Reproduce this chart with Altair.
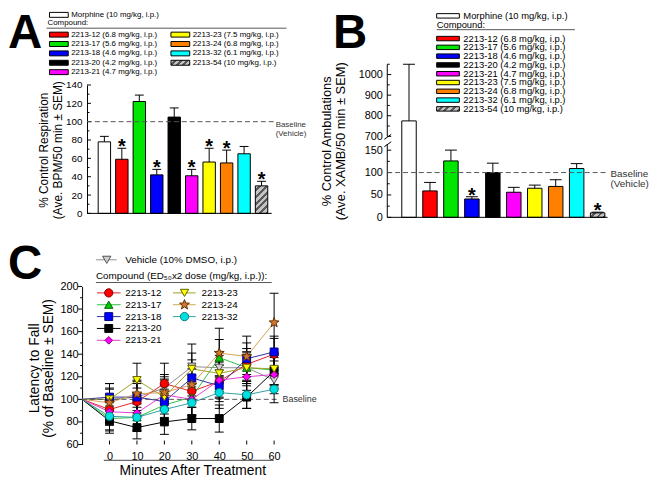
import math
import altair as alt
import pandas as pd

FONT = "Liberation Sans"

# ------------------------------------------------------------------ data (panels A & B)
groups = ["Morphine", "2213-12", "2213-17", "2213-18", "2213-20",
          "2213-21", "2213-23", "2213-24", "2213-32", "2213-54"]
doses = ["10", "6.8", "5.6", "4.6", "4.2", "4.7", "7.5", "6.8", "6.1", "10"]
bar_colors = ["#ffffff", "#ff0000", "#00e600", "#0000ff", "#000000",
              "#ff00ff", "#ffff00", "#ff8000", "#00ffff", "#b4b4b4"]
HATCH = "2213-54"

resp_mean = [78, 59, 122, 42, 105, 41, 56, 55, 65, 30]
resp_sem = [6, 12, 7, 6, 10, 7, 15, 14, 8, 5]
resp_sig = [False, True, False, True, False, True, True, True, False, True]

amb_mean = [775, 59, 126, 41, 100, 56, 65, 69, 109, 10]
amb_sem = [275, 19, 27, 5, 21, 11, 7, 15, 11, 1.5]
amb_sig = [False, False, False, True, False, False, False, False, False, True]

# ------------------------------------------------------------------ data (panel C)
minutes = [-10, 0, 10, 20, 30, 40, 50, 60]
c_names = ["Vehicle", "2213-12", "2213-17", "2213-18", "2213-20",
           "2213-21", "2213-23", "2213-24", "2213-32"]
veh_mean = [100, 100, 102, 110, 129, 128, 128, 117]
veh_sem = [0, 10, 12, 12, 20, 14, 12, 12]
c12_mean = [100, 91, 98, 114, 107, 116, 131, 140]
c12_sem = [0, 12, 12, 18, 14, 14, 14, 14]
c17_mean = [100, 83, 84, 95, 102, 137, 128, 126]
c17_sem = [0, 11, 12, 14, 16, 16, 14, 14]
c18_mean = [100, 102, 102, 98, 119, 112, 136, 142]
c18_sem = [0, 12, 14, 14, 16, 14, 14, 14]
c20_mean = [100, 81, 75, 80, 83, 83, 102, 125]
c20_sem = [0, 11, 10, 11, 10, 12, 10, 12]
c21_mean = [100, 89, 88, 104, 100, 117, 120, 122]
c21_sem = [0, 12, 12, 14, 14, 16, 12, 12]
c23_mean = [100, 100, 117, 102, 127, 123, 128, 127]
c23_sem = [0, 14, 15, 15, 14, 16, 14, 14]
c24_mean = [100, 97, 105, 106, 113, 141, 138, 168]
c24_sem = [0, 12, 12, 14, 14, 22, 18, 26]
c32_mean = [100, 85, 84, 91, 97, 106, 104, 109]
c32_sem = [0, 12, 12, 12, 14, 14, 12, 12]
c_means = [veh_mean, c12_mean, c17_mean, c18_mean, c20_mean, c21_mean, c23_mean, c24_mean, c32_mean]
c_sems = [veh_sem, c12_sem, c17_sem, c18_sem, c20_sem, c21_sem, c23_sem, c24_sem, c32_sem]

# 5-point star as a custom symbol path (Vega has no built-in star)
_pts = []
for k in range(10):
    r = 1.0 if k % 2 == 0 else 0.42
    a = math.radians(-90 + 36 * k)
    _pts.append(f"{r * math.cos(a):.3f},{r * math.sin(a):.3f}")
STAR = "M" + " L".join(_pts) + " Z"

c_line_colors = ["#8c8c8c", "#e8202a", "#30c040", "#3030a0", "#000000",
                 "#e040d0", "#a0a020", "#d8a050", "#30a0a0"]
c_fill = ["#d0d0d0", "#ff0000", "#00cc00", "#0000ff", "#000000",
          "#ff00ff", "#ffff00", "#d07830", "#00e0e0"]
c_stroke = ["#505050", "#800000", "#006000", "#000080", "#000000",
            "#800080", "#606000", "#603000", "#008080"]
c_shapes = ["triangle-down", "circle", "triangle-up", "square", "square",
            "diamond", "triangle-down", STAR, "circle"]
c_sizes = [70, 70, 70, 64, 64, 60, 70, 110, 70]

labels = [f"{g} ({d} mg/kg, i.p.)" for g, d in zip(groups, doses)]


# ------------------------------------------------------------------ helpers
def hatch(w, h, n, light="#c4c4c4", dark="#5a5a5a"):
    m = max(w, h)
    a, b = w / m, h / m
    c = (a + b) / (a * a + b * b)
    stops = []
    for k in range(n):
        s0, s1, s2 = k / n, (k + 0.55) / n, (k + 1) / n
        stops += [alt.GradientStop(color=light, offset=s0),
                  alt.GradientStop(color=light, offset=s1),
                  alt.GradientStop(color=dark, offset=s1),
                  alt.GradientStop(color=dark, offset=s2)]
    return alt.LinearGradient(gradient="linear", stops=stops, x1=0, y1=0, x2=c * a, y2=c * b)


def bar_layers(mean, sem, sig, x_range, pad_inner, y_scale, axis, cap, star_dy, hatch_fill):
    df = pd.DataFrame({"grp": groups, "m": mean, "s": sem, "sig": sig, "col": bar_colors})
    df["top"] = df["m"] + df["s"]
    xs = alt.Scale(domain=groups, range=x_range, paddingInner=pad_inner, paddingOuter=0)
    X = alt.X("grp:N", scale=xs, axis=None)
    base = alt.Chart(df)
    solid = base.transform_filter(f"datum.grp != '{HATCH}'").mark_bar(
        stroke="black", strokeWidth=1).encode(
        x=X, y=alt.Y("m:Q", scale=y_scale, axis=axis), fill=alt.Fill("col:N", scale=None))
    hat = base.transform_filter(f"datum.grp == '{HATCH}'").mark_bar(
        fill=hatch_fill, stroke="black", strokeWidth=1).encode(
        x=X, y=alt.Y("m:Q", scale=y_scale, axis=axis))
    err = base.mark_rule(color="black", strokeWidth=1).encode(
        x=X, y=alt.Y("m:Q", scale=y_scale, axis=axis), y2="top:Q")
    caps = base.mark_tick(color="black", thickness=1, size=cap, opacity=1).encode(
        x=X, y=alt.Y("top:Q", scale=y_scale, axis=axis))
    stars = base.transform_filter("datum.sig").mark_text(
        text="*", fontSize=20, fontWeight="bold", baseline="alphabetic", dy=star_dy,
        color="black").encode(x=X, y=alt.Y("top:Q", scale=y_scale, axis=axis))
    return [solid, hat, err, caps, stars]


def tick_layer(values, y_scale, x0, x1, axis):
    return alt.Chart(pd.DataFrame({"v": values})).mark_rule(color="black", strokeWidth=1).encode(
        y=alt.Y("v:Q", scale=y_scale, axis=axis), x=alt.value(x0), x2=alt.value(x1))


def hline(value, y_scale, x0, x1, axis, dash=None, color="black"):
    kw = {"color": color, "strokeWidth": 1}
    if dash:
        kw["strokeDash"] = dash
    return alt.Chart(pd.DataFrame({"v": [value]})).mark_rule(**kw).encode(
        y=alt.Y("v:Q", scale=y_scale, axis=axis), x=alt.value(x0), x2=alt.value(x1))


def pix_rule(x0, x1, y0, y1, color="black"):
    return alt.Chart(pd.DataFrame({"k": [0]})).mark_rule(color=color, strokeWidth=1).encode(
        x=alt.value(x0), x2=alt.value(x1), y=alt.value(y0), y2=alt.value(y1))


def pix_text(txt, x, y, size, weight="normal", baseline="middle", align="left", angle=0):
    return alt.Chart(pd.DataFrame({"k": [0]})).mark_text(
        text=txt, fontSize=size, fontWeight=weight, align=align, baseline=baseline,
        angle=angle, color="black").encode(x=alt.value(x), y=alt.value(y))


def bar_legend(positions, sw_w, sw_h, gap, fsize, hatch_fill):
    df = pd.DataFrame({"label": labels, "col": bar_colors, "grp": groups,
                       "sx": [p[0] for p in positions], "ly": [p[1] for p in positions]})
    df["sx2"] = df["sx"] + sw_w
    df["ya"] = df["ly"] - sw_h / 2
    df["yb"] = df["ly"] + sw_h / 2
    df["tx"] = df["sx"] + sw_w + gap
    base = alt.Chart(df)
    enc = dict(x=alt.X("sx:Q", scale=None), x2="sx2:Q",
               y=alt.Y("ya:Q", scale=None), y2="yb:Q")
    sw = base.transform_filter(f"datum.grp != '{HATCH}'").mark_rect(
        stroke="black", strokeWidth=1).encode(fill=alt.Fill("col:N", scale=None), **enc)
    sh = base.transform_filter(f"datum.grp == '{HATCH}'").mark_rect(
        fill=hatch_fill, stroke="black", strokeWidth=1).encode(**enc)
    tx = base.mark_text(align="left", baseline="middle", fontSize=fsize, color="black").encode(
        x=alt.X("tx:Q", scale=None), y=alt.Y("ly:Q", scale=None), text="label:N")
    return [sw, sh, tx]


# ------------------------------------------------------------------ panel A
A_W, A_H = 189, 151
yA = alt.Scale(domain=[0, 140], range=[151, 21], nice=False, zero=False)
axisA = alt.Axis(values=list(range(0, 141, 20)), ticks=False, tickSize=0, domain=True,
                 domainColor="black", grid=False, labelFontSize=10, labelPadding=5,
                 labelFlush=False, labelColor="black", format="d", title="")
posA = [(-38, -50)] + [(-38, -30 + 9.5 * i) for i in range(5)] + [(85, -30 + 9.5 * i) for i in range(4)]
layersA = bar_layers(resp_mean, resp_sem, resp_sig, [11.3, 183.0], 0.29, yA, axisA, 9, 5,
                     hatch(12.5, 28, 6))
layersA += [
    tick_layer(list(range(0, 141, 20)), yA, 0, 4, axisA),
    tick_layer(list(range(10, 131, 20)), yA, 0, 2.5, axisA),
    hline(0, yA, 0, 187, axisA),
    hline(100, yA, 0, 189, axisA, dash=[5, 3], color="#555555"),
    alt.Chart(pd.DataFrame({"v": [100]})).mark_text(
        text=["Baseline", "(Vehicle)"], align="left", baseline="middle", fontSize=8,
        lineHeight=10, dy=3, color="#333333").encode(
        y=alt.Y("v:Q", scale=yA, axis=axisA), x=alt.value(191)),
    pix_text("% Control Respiration", -43, 87, 12, align="center", angle=270),
    pix_text("(Ave. BPM/50 min ± SEM)", -29, 87, 12, align="center", angle=270),
    pix_text("A", -80, -54, 48, "bold", "top"),
    pix_text("Compound:", -40, -42, 8),
    pix_rule(-41, 202, -36.5, -36.5, "#555555"),
]
layersA += bar_legend(posA, 19, 5, 3, 8, hatch(19, 5, 4))
chartA = alt.layer(*layersA).properties(width=A_W, height=A_H)

# ------------------------------------------------------------------ panel B
B_W, B_H = 223, 155
yB = alt.Scale(domain=[0, 150, 700, 1050], range=[155, 87, 73, 0], nice=False, zero=False)
axisB = alt.Axis(values=[0, 50, 100, 150, 700, 800, 900, 1000], ticks=False, tickSize=0,
                 domain=False, grid=False, labelFontSize=11, labelPadding=5, labelFlush=False,
                 labelColor="black", format="d", title="")
posB = [(50, -49)] + [(50, -26 + 8.9 * i) for i in range(9)]
layersB = bar_layers(amb_mean, amb_sem, amb_sig, [14.7, 220.3], 0.31, yB, axisB, 12, 5,
                     hatch(14.7, 4.5, 3))
layersB += [
    tick_layer([0, 50, 100, 150, 700, 800, 900, 1000], yB, 0, 4, axisB),
    tick_layer([25, 75, 125, 750, 850, 950, 1050], yB, 0, 2.5, axisB),
    pix_rule(0, 0, 155, 81),
    pix_rule(0, 0, 73, 0),
    pix_rule(-3, 4, 76, 71),
    pix_rule(-3, 4, 83.5, 78.5),
    hline(0, yB, 0, 223, axisB),
    hline(100, yB, 0, 223, axisB, dash=[5, 3], color="#555555"),
    alt.Chart(pd.DataFrame({"v": [100]})).mark_text(
        text=["Baseline", "(Vehicle)"], align="left", baseline="middle", fontSize=10,
        lineHeight=11, dy=1, color="#333333").encode(
        y=alt.Y("v:Q", scale=yB, axis=axisB), x=alt.value(226)),
    pix_text("% Control Ambulations", -61, 78, 13, align="center", angle=270),
    pix_text("(Ave. XAMB/50 min ± SEM)", -47, 78, 13, align="center", angle=270),
    pix_text("B", -55, -54, 48, "bold", "top"),
    pix_text("Compound:", 50, -40, 9.5),
    pix_rule(50, 190, -35, -35, "#555555"),
]
layersB += bar_legend(posB, 23, 4.5, 4, 9.5, hatch(23, 4.5, 4))
chartB = alt.layer(*layersB).properties(width=B_W, height=B_H)

# ------------------------------------------------------------------ panel C
C_W, C_H = 195, 160
xC = alt.Scale(domain=[-10, 62], range=[-5, 195], nice=False, zero=False)
yC = alt.Scale(domain=[60, 200], range=[160, 0], nice=False, zero=False)

rows = []
for i, name in enumerate(c_names):
    for t, m, s in zip(minutes, c_means[i], c_sems[i]):
        rows.append({"name": name, "t": t, "m": m, "lo": m - s, "hi": m + s,
                     "lc": c_line_colors[i], "fc": c_fill[i], "sc": c_stroke[i],
                     "shp": c_shapes[i], "sz": c_sizes[i]})
dfC = pd.DataFrame(rows)

axisCx = alt.Axis(values=list(range(0, 61, 10)), ticks=False, tickSize=0, domain=False,
                  grid=False, labelFontSize=11, labelPadding=6.5, labelFlush=False,
                  labelColor="black", title="")
axisCy = alt.Axis(values=list(range(60, 201, 20)), ticks=False, tickSize=0, domain=True,
                  domainColor="black", offset=5, grid=False, labelFontSize=11,
                  labelPadding=4, labelFlush=False, labelColor="black", title="")
XC = alt.X("t:Q", scale=xC, axis=axisCx)

cbase = alt.Chart(dfC)
errC = cbase.transform_filter("datum.t >= 0").mark_rule(color="black", strokeWidth=1).encode(
    x=XC, y=alt.Y("lo:Q", scale=yC, axis=axisCy), y2="hi:Q")
capHi = cbase.transform_filter("datum.t >= 0").mark_point(
    shape="stroke", size=81, color="black", strokeWidth=1, opacity=1).encode(
    x=XC, y=alt.Y("hi:Q", scale=yC, axis=axisCy))
capLo = cbase.transform_filter("datum.t >= 0").mark_point(
    shape="stroke", size=81, color="black", strokeWidth=1, opacity=1).encode(
    x=XC, y=alt.Y("lo:Q", scale=yC, axis=axisCy))
linesC = cbase.mark_line(strokeWidth=1).encode(
    x=XC, y=alt.Y("m:Q", scale=yC, axis=axisCy),
    color=alt.Color("lc:N", scale=None), detail="name:N", order="t:Q")
ptsC = cbase.transform_filter("datum.t >= 0").mark_point(
    filled=True, opacity=1, strokeWidth=1).encode(
    x=XC, y=alt.Y("m:Q", scale=yC, axis=axisCy),
    fill=alt.Fill("fc:N", scale=None), stroke=alt.Stroke("sc:N", scale=None),
    shape=alt.Shape("shp:N", scale=None), size=alt.Size("sz:Q", scale=None))

leg_pos = [(9, 30, 20, 38.7, -27)]
leg_pos += [(10, 34, 22, 38.7, 6.5 + 12 * i) for i in range(5)]
leg_pos += [(87, 110, 98.7, 116, 6.5 + 12 * i) for i in range(3)]
dfL = pd.DataFrame({
    "label": ["Vehicle (10% DMSO, i.p.)"] + c_names[1:],
    "lx1": [p[0] for p in leg_pos], "lx2": [p[1] for p in leg_pos],
    "mx": [p[2] for p in leg_pos], "tx": [p[3] for p in leg_pos], "ly": [p[4] for p in leg_pos],
    "lc": c_line_colors, "fc": c_fill, "sc": c_stroke, "shp": c_shapes, "sz": c_sizes})
lbase = alt.Chart(dfL)
legLines = lbase.mark_rule(strokeWidth=1).encode(
    x=alt.X("lx1:Q", scale=None), x2="lx2:Q", y=alt.Y("ly:Q", scale=None),
    color=alt.Color("lc:N", scale=None))
legPts = lbase.mark_point(filled=True, opacity=1, strokeWidth=1).encode(
    x=alt.X("mx:Q", scale=None), y=alt.Y("ly:Q", scale=None),
    fill=alt.Fill("fc:N", scale=None), stroke=alt.Stroke("sc:N", scale=None),
    shape=alt.Shape("shp:N", scale=None), size=alt.Size("sz:Q", scale=None))
legText = lbase.mark_text(align="left", baseline="middle", fontSize=10, color="black").encode(
    x=alt.X("tx:Q", scale=None), y=alt.Y("ly:Q", scale=None), text="label:N")

xticksC = alt.Chart(pd.DataFrame({"t": list(range(0, 61, 10))})).mark_rule(
    color="black", strokeWidth=1).encode(x=XC, y=alt.value(156), y2=alt.value(160))
yticksC = alt.Chart(pd.DataFrame({"v": list(range(60, 201, 20))})).mark_rule(
    color="black", strokeWidth=1).encode(
    y=alt.Y("v:Q", scale=yC, axis=axisCy), x=alt.value(-9), x2=alt.value(-5))
yminC = alt.Chart(pd.DataFrame({"v": list(range(70, 200, 20))})).mark_rule(
    color="black", strokeWidth=1).encode(
    y=alt.Y("v:Q", scale=yC, axis=axisCy), x=alt.value(-7), x2=alt.value(-5))

layersC = [
    linesC,
    hline(100, yC, -5, 195, axisCy, dash=[5, 3], color="#555555"),
    alt.Chart(pd.DataFrame({"v": [100]})).mark_text(
        text="Baseline", align="left", baseline="middle", fontSize=9, color="#333333").encode(
        y=alt.Y("v:Q", scale=yC, axis=axisCy), x=alt.value(198)),
    errC, capHi, capLo, ptsC,
    xticksC, yticksC, yminC,
    pix_rule(17, 189, 176, 176, "#444444"),
    pix_text("Minutes After Treatment", 107, 187, 14, align="center"),
    pix_text("Latency to Fall", -53, 83, 14, align="center", angle=270),
    pix_text("(% of Baseline ± SEM)", -38, 83, 14, align="center", angle=270),
    pix_text("C", -80, -45.6, 48, "bold", "top"),
    pix_text("Compound (ED₅₀x2 dose (mg/kg, i.p.)):", 9, -10.3, 10),
    pix_rule(9, 187, -4, -4, "#555555"),
    legLines, legPts, legText,
]
chartC = alt.layer(*layersC).properties(width=C_W, height=C_H)

# ------------------------------------------------------------------ compose
chart = alt.concat(
    chartA, chartB, chartC, columns=2,
    spacing={"row": 70, "column": 109}, bounds="flush", align="each",
).properties(padding=0, background="white").configure(font=FONT).configure_view(
    strokeWidth=0).configure_axis(grid=False)

chart.save("out.html", embed_options={"renderer": "svg", "actions": False})
